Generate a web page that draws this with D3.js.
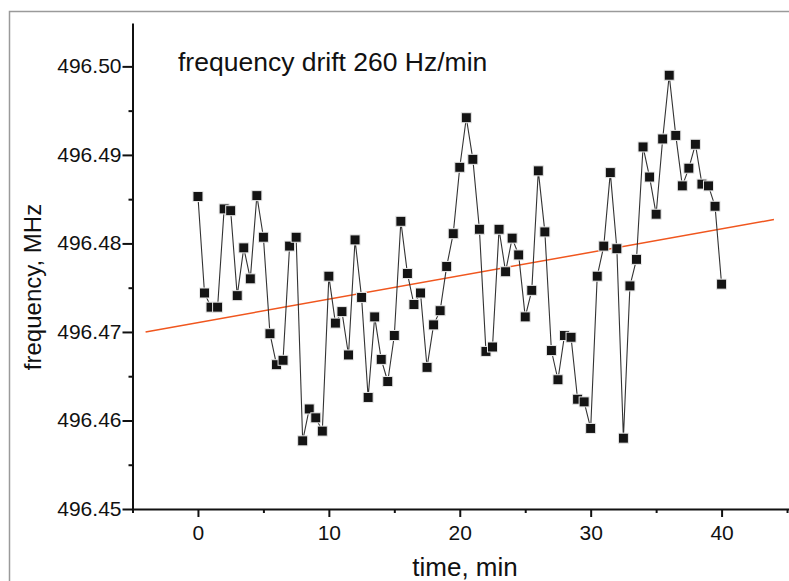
<!DOCTYPE html>
<html>
<head>
<meta charset="utf-8">
<script src="https://cdn.jsdelivr.net/npm/d3@7"></script>
<style>
  body { margin: 0; background: #fff; }
  svg text { font-family: "Liberation Sans", Arial, sans-serif; fill: #111; }
</style>
</head>
<body>
<div id="chart"></div>
<script>
// measurement times, min
var times = [0, 0.5, 1, 1.5, 2, 2.5, 3, 3.5, 4, 4.5, 5, 5.5, 6, 6.5, 7, 7.5,
  8, 8.5, 9, 9.5, 10, 10.5, 11, 11.5, 12, 12.5, 13, 13.5, 14, 14.5, 15, 15.5,
  16, 16.5, 17, 17.5, 18, 18.5, 19, 19.5, 20, 20.5, 21, 21.5, 22, 22.5, 23, 23.5,
  24, 24.5, 25, 25.5, 26, 26.5, 27, 27.5, 28, 28.5, 29, 29.5, 30, 30.5, 31, 31.5,
  32, 32.5, 33, 33.5, 34, 34.5, 35, 35.5, 36, 36.5, 37, 37.5, 38, 38.5, 39, 39.5, 40];

// measured frequency, MHz
var freqs = [496.4853, 496.4744, 496.4728, 496.4728, 496.4839, 496.4837, 496.4741, 496.4795,
  496.4760, 496.4854, 496.4807, 496.4698, 496.4663, 496.4668, 496.4797, 496.4807,
  496.4577, 496.4613, 496.4603, 496.4588, 496.4763, 496.4710, 496.4723, 496.4674,
  496.4804, 496.4739, 496.4626, 496.4717, 496.4669, 496.4644, 496.4696, 496.4825,
  496.4766, 496.4731, 496.4744, 496.4660, 496.4708, 496.4724, 496.4774, 496.4811,
  496.4886, 496.4942, 496.4895, 496.4816, 496.4678, 496.4683, 496.4816, 496.4768,
  496.4806, 496.4787, 496.4717, 496.4747, 496.4882, 496.4813, 496.4679, 496.4646,
  496.4696, 496.4694, 496.4624, 496.4621, 496.4591, 496.4763, 496.4797, 496.4880,
  496.4794, 496.4580, 496.4752, 496.4782, 496.4909, 496.4875, 496.4833, 496.4918,
  496.4990, 496.4922, 496.4865, 496.4885, 496.4912, 496.4867, 496.4865, 496.4842, 496.4754];

// linear fit (drift 260 Hz/min)
var fitTime = [-4, 44];
var fitFreq = [496.4700, 496.4827];

var xMajor = [0, 10, 20, 30, 40];
var xMinor = [-5, 5, 15, 25, 35, 45];
var yMajor = [496.45, 496.46, 496.47, 496.48, 496.49, 496.50];
var yMinor = [496.455, 496.465, 496.475, 496.485, 496.495];

var W = 789, H = 581;

var svg = d3.select("#chart").append("svg")
  .attr("width", W)
  .attr("height", H);

// grey outer frame (cut off on right/bottom)
svg.append("path")
  .attr("d", "M9.5," + H + "V11.5H" + W)
  .attr("fill", "none")
  .attr("stroke", "#9a9a9a")
  .attr("stroke-width", 1.5);

var x = d3.scaleLinear().domain([-5, 45.15]).range([132.5, 789]);
var y = d3.scaleLinear().domain([496.45, 496.5049]).range([509, 23]);

// minor ticks first, major axis on top
svg.append("g")
  .attr("transform", "translate(0,509)")
  .call(d3.axisBottom(x).tickValues(xMinor).tickSize(4).tickFormat(""))
  .call(function (g) { g.select(".domain").remove(); });

svg.append("g")
  .attr("transform", "translate(132.5,0)")
  .call(d3.axisLeft(y).tickValues(yMinor).tickSize(4).tickFormat(""))
  .call(function (g) { g.select(".domain").remove(); });

var xAxis = svg.append("g")
  .attr("transform", "translate(0,509)")
  .call(d3.axisBottom(x).tickValues(xMajor).tickSize(8).tickSizeOuter(0).tickPadding(8).tickFormat(d3.format("d")));

var yAxis = svg.append("g")
  .attr("transform", "translate(132.5,0)")
  .call(d3.axisLeft(y).tickValues(yMajor).tickSize(10).tickSizeOuter(0).tickPadding(1).tickFormat(d3.format(".2f")));

svg.selectAll(".tick line, .domain")
  .attr("stroke", "#111")
  .attr("stroke-width", 2);

xAxis.selectAll("text").attr("font-size", "21px").attr("dy", "0.72em");
yAxis.selectAll("text").attr("font-size", "21px").attr("dy", "0.3em");

// fit line
svg.append("line")
  .attr("x1", x(fitTime[0])).attr("y1", y(fitFreq[0]))
  .attr("x2", x(fitTime[1])).attr("y2", y(fitFreq[1]))
  .attr("stroke", "#f0561e")
  .attr("stroke-width", 1.5);

// data line
var line = d3.line()
  .x(function (d, i) { return x(times[i]); })
  .y(function (d) { return y(d); });

svg.append("path")
  .datum(freqs)
  .attr("d", line)
  .attr("fill", "none")
  .attr("stroke", "#333")
  .attr("stroke-width", 1.1);

// square markers
var s = 10;
svg.selectAll("rect.pt")
  .data(freqs)
  .enter()
  .append("rect")
  .attr("class", "pt")
  .attr("x", function (d, i) { return x(times[i]) - s / 2; })
  .attr("y", function (d) { return y(d) - s / 2; })
  .attr("width", s)
  .attr("height", s)
  .attr("fill", "#141414")
  .attr("stroke", "#e8e8e8")
  .attr("stroke-width", 1);

// labels
svg.append("text")
  .attr("x", 178)
  .attr("y", 71)
  .attr("font-size", "26.5px")
  .text("frequency drift 260 Hz/min");

svg.append("text")
  .attr("x", 465)
  .attr("y", 576)
  .attr("text-anchor", "middle")
  .attr("font-size", "26px")
  .text("time, min");

svg.append("text")
  .attr("transform", "translate(41,287) rotate(-90)")
  .attr("text-anchor", "middle")
  .attr("font-size", "24px")
  .text("frequency, MHz");
</script>
</body>
</html>
